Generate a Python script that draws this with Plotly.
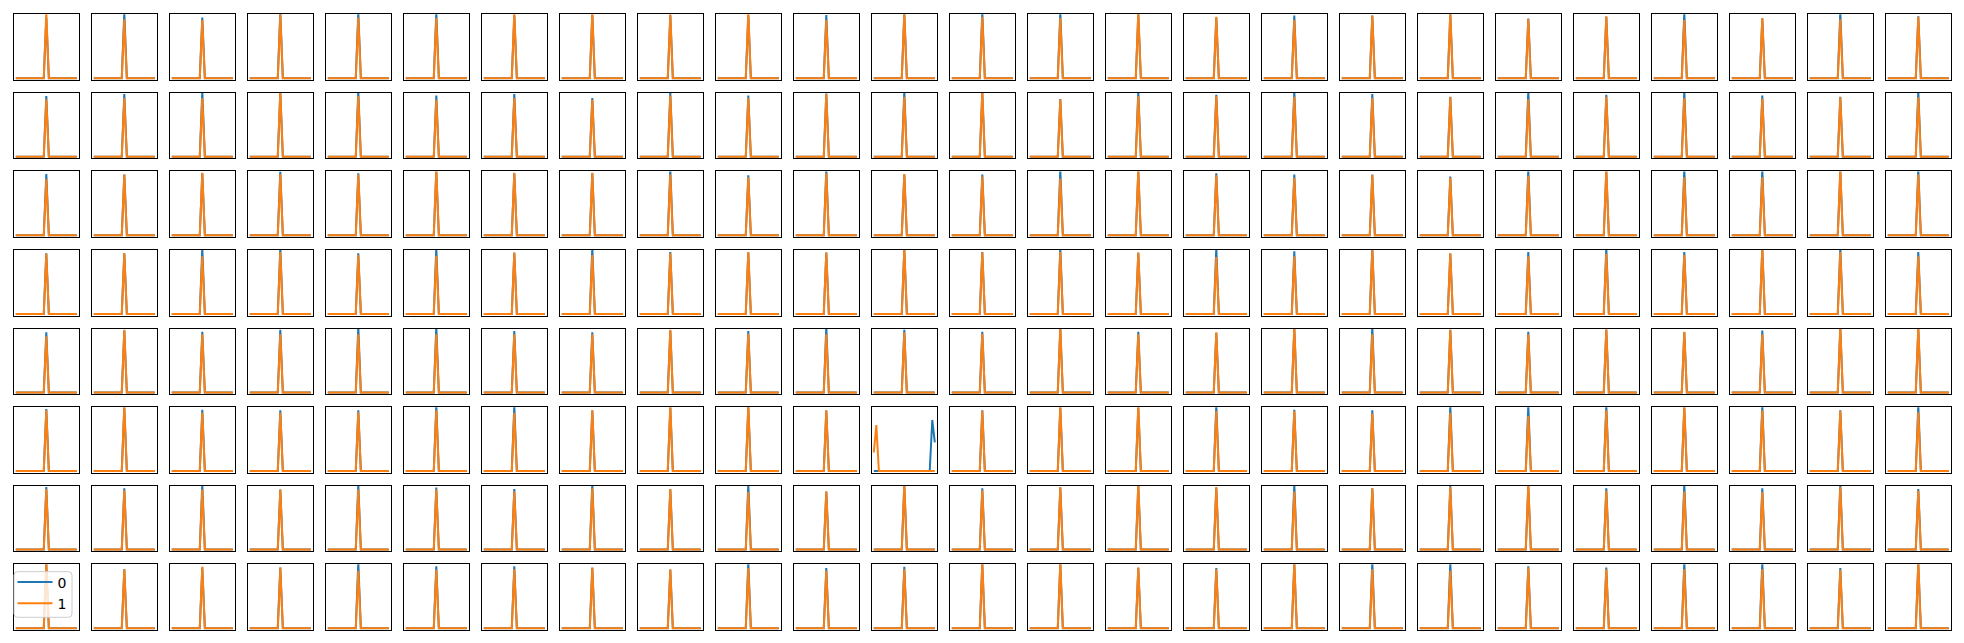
import plotly.graph_objects as go

# ---------------- data ----------------
N_ROWS, N_COLS = 8, 25
N_POINTS = 25
PEAK_INDEX = 12
x_values = list(range(N_POINTS))
series_names = ["0", "1"]
series_colors = ["#1f77b4", "#ff7f0e"]

# peak height of series "0" (blue) per panel, row by row (None = special panel)
blue_peak = [
    0.94, 1.03, 0.95, 1.03, 1.03, 1.03, 0.98, 0.99, 0.99, 0.98, 0.99, 1.00, 1.03, 1.03, 1.00, 0.95, 0.98, 0.98, 1.00, 0.935, 0.96, 1.03, 0.935, 1.03, 0.97,
    0.95, 0.98, 1.03, 1.00, 1.03, 0.96, 0.98, 0.92, 1.00, 0.96, 0.99, 1.03, 1.00, 0.905, 1.03, 0.97, 1.03, 0.98, 0.94, 1.03, 0.97, 1.03, 0.96, 0.94, 1.03,
    0.96, 0.95, 0.97, 1.00, 0.97, 1.00, 0.97, 0.97, 1.03, 0.94, 1.03, 0.95, 0.95, 1.03, 1.00, 0.97, 0.95, 0.95, 0.92, 1.03, 1.00, 1.03, 1.03, 1.00, 1.03,
    0.95, 0.95, 1.03, 1.03, 0.95, 1.03, 0.955, 1.03, 0.97, 0.96, 0.96, 1.00, 0.97, 1.03, 0.955, 1.03, 0.98, 1.03, 0.945, 0.97, 1.03, 0.97, 1.03, 1.03, 0.97,
    0.94, 0.97, 0.95, 0.98, 1.03, 1.03, 0.96, 0.94, 0.97, 0.96, 1.03, 0.98, 0.95, 1.00, 0.95, 0.93, 1.00, 1.03, 0.98, 0.95, 0.98, 0.94, 0.97, 1.00, 0.99,
    0.97, 0.99, 0.96, 0.95, 0.95, 1.03, 1.03, 0.945, 0.99, 1.00, 0.945, None, 0.95, 0.99, 0.99, 1.03, 0.96, 0.95, 1.03, 1.03, 1.03, 0.99, 1.03, 0.95, 1.03,
    0.98, 0.96, 1.03, 0.94, 1.03, 0.97, 0.95, 1.03, 0.945, 1.03, 0.91, 1.00, 0.96, 0.97, 1.00, 0.97, 1.03, 0.96, 1.00, 0.99, 0.96, 1.03, 0.96, 1.03, 0.95,
    1.00, 0.92, 0.955, 0.95, 1.03, 0.97, 0.97, 0.945, 0.915, 1.03, 0.94, 0.96, 1.00, 1.00, 0.945, 0.94, 1.00, 1.03, 1.03, 0.97, 0.95, 1.03, 1.03, 0.94, 1.00,
]

# peak height of series "1" (orange) per panel, row by row
orange_peak = [
    1.03, 0.92, 0.91, 1.00, 0.95, 0.94, 1.03, 1.03, 1.00, 1.03, 0.91, 1.03, 0.96, 0.94, 1.03, 0.96, 0.91, 0.98, 1.03, 0.925, 0.97, 0.91, 0.94, 0.92, 0.96,
    0.90, 0.92, 0.92, 1.03, 0.95, 0.89, 0.92, 0.89, 0.96, 0.92, 0.98, 0.94, 1.03, 0.90, 0.95, 0.95, 0.94, 0.92, 0.935, 0.90, 0.94, 0.92, 0.91, 0.93, 0.93,
    0.88, 0.95, 0.98, 0.96, 0.95, 1.03, 0.98, 0.98, 0.95, 0.91, 0.97, 0.96, 0.92, 0.89, 1.03, 0.94, 0.90, 0.945, 0.90, 0.93, 1.03, 0.91, 0.91, 1.03, 0.95,
    0.94, 0.95, 0.90, 0.97, 0.92, 0.91, 0.96, 0.92, 0.95, 0.97, 0.96, 1.03, 0.96, 0.97, 0.96, 0.89, 0.90, 1.00, 0.95, 0.90, 0.94, 0.92, 1.03, 0.97, 0.90,
    0.88, 0.98, 0.91, 0.91, 0.91, 0.91, 0.91, 0.91, 0.98, 0.92, 0.91, 0.94, 0.92, 1.03, 0.91, 0.94, 1.03, 0.91, 0.98, 0.91, 0.99, 0.95, 0.91, 1.03, 1.03,
    0.95, 1.03, 0.91, 0.91, 0.92, 0.95, 0.91, 0.95, 1.03, 1.03, 0.95, None, 0.94, 1.03, 1.03, 0.94, 0.94, 0.90, 0.91, 0.86, 0.95, 1.03, 0.95, 0.94, 0.92,
    0.95, 0.93, 0.94, 0.94, 0.94, 0.94, 0.91, 0.96, 0.95, 0.90, 0.91, 1.03, 0.93, 0.98, 1.03, 0.98, 0.91, 0.96, 0.98, 1.03, 0.92, 0.91, 0.90, 0.98, 0.92,
    1.03, 0.92, 0.96, 0.95, 0.90, 0.91, 0.92, 0.95, 0.92, 0.94, 0.90, 0.92, 1.03, 1.03, 0.95, 0.92, 1.03, 0.92, 0.90, 0.95, 0.92, 0.92, 0.92, 0.91, 1.03,
]

# the one panel whose curves are not a central spike (row 6, column 12)
special_panel = 136
special_blue = [0, 0, 0, 0, 0, 0, 0, 0, 0, 0, 0, 0, 0, 0, 0, 0, 0, 0, 0, 0, 0, 0, 0, 0.80, 0.45]
special_orange = [0.29, 0.72, 0, 0, 0, 0, 0, 0, 0, 0, 0, 0, 0, 0, 0, 0, 0, 0, 0, 0, 0, 0, 0, 0, 0]

# ---------------- layout geometry (pixels) ----------------
W, H = 1964, 643
COL_LEFT0, COL_PITCH, PANEL_W = 14.3, 78.0, 65.0
ROW_TOP0, ROW_PITCH, PANEL_H = 14.3, 78.57, 65.5
Y_RANGE = [-0.025, 1.0]
X_RANGE = [-0.59, 24.98]
# legend frame (pixels)
LEG_L, LEG_R, LEG_T, LEG_B, LEG_RAD = 14.0, 72.0, 571.7, 617.3, 3.5


def spike(peak):
    ys = [0.0] * N_POINTS
    ys[PEAK_INDEX] = peak
    return ys


fig = go.Figure()
layout_axes = {}
for k in range(N_ROWS * N_COLS):
    r, c = divmod(k, N_COLS)
    xname = "x" if k == 0 else f"x{k + 1}"
    yname = "y" if k == 0 else f"y{k + 1}"
    if k == special_panel:
        ys_list = [special_blue, special_orange]
    else:
        ys_list = [spike(blue_peak[k]), spike(orange_peak[k])]
    legend_panel = (k == (N_ROWS - 1) * N_COLS)
    for s in range(2):
        fig.add_trace(go.Scatter(
            x=x_values, y=ys_list[s], mode="lines",
            line=dict(color=series_colors[s], width=2),
            name=series_names[s], legendgroup=series_names[s],
            showlegend=legend_panel,
            xaxis=xname, yaxis=yname, hoverinfo="skip",
        ))
    left = COL_LEFT0 + COL_PITCH * c
    top = ROW_TOP0 + ROW_PITCH * r
    axis_style = dict(showticklabels=False, ticks="", showgrid=False, zeroline=False,
                      showline=True, linecolor="black", linewidth=1, mirror=True,
                      fixedrange=True)
    layout_axes["xaxis" if k == 0 else f"xaxis{k + 1}"] = dict(
        domain=[left / W, (left + PANEL_W) / W], range=X_RANGE,
        anchor=yname, **axis_style)
    layout_axes["yaxis" if k == 0 else f"yaxis{k + 1}"] = dict(
        domain=[1 - (top + PANEL_H) / H, 1 - top / H], range=Y_RANGE,
        anchor=xname, **axis_style)


def px(xp):
    return xp / W


def py(yp):
    return 1 - yp / H


rx, ry = LEG_RAD / W, LEG_RAD / H
x0, x1, y0, y1 = px(LEG_L), px(LEG_R), py(LEG_B), py(LEG_T)
frame_path = (
    f"M {x0 + rx},{y1} L {x1 - rx},{y1} Q {x1},{y1} {x1},{y1 - ry} "
    f"L {x1},{y0 + ry} Q {x1},{y0} {x1 - rx},{y0} "
    f"L {x0 + rx},{y0} Q {x0},{y0} {x0},{y0 + ry} "
    f"L {x0},{y1 - ry} Q {x0},{y1} {x0 + rx},{y1} Z"
)

fig.update_layout(
    width=W, height=H,
    margin=dict(l=0, r=0, t=0, b=0),
    paper_bgcolor="white", plot_bgcolor="white",
    hovermode=False,
    font=dict(family="DejaVu Sans", size=14, color="black"),
    shapes=[dict(type="path", path=frame_path, xref="paper", yref="paper",
                 fillcolor="rgba(255,255,255,0.8)",
                 line=dict(color="#cccccc", width=1), layer="above")],
    legend=dict(
        x=12.5 / W, y=1 - 566.5 / H, xanchor="left", yanchor="top",
        bgcolor="rgba(0,0,0,0)", borderwidth=0,
        itemwidth=35, font=dict(family="DejaVu Sans", size=14),
        tracegroupgap=0,
    ),
    **layout_axes,
)

fig.write_html(
    "out.html",
    config={"displayModeBar": False, "staticPlot": True},
    post_script="document.body.style.margin='0';document.body.style.overflow='hidden';",
)
